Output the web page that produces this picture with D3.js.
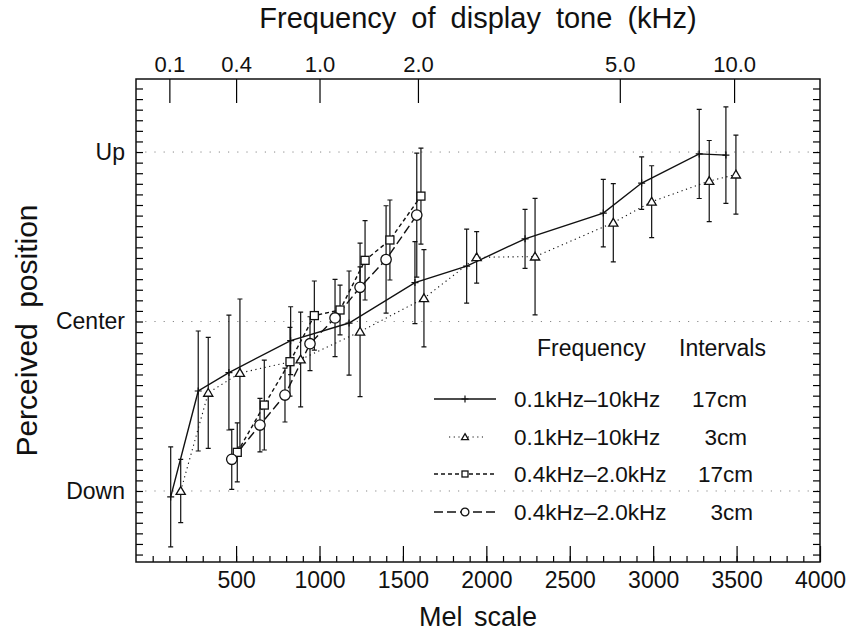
<!DOCTYPE html>
<html>
<head>
<meta charset="utf-8">
<script src="https://cdn.jsdelivr.net/npm/d3@7"></script>
<style>
  body { margin: 0; background: #fff; }
  svg text { font-family: "Liberation Sans", Arial, Helvetica, sans-serif; fill: #111; }
</style>
</head>
<body>
<div id="chart"></div>
<script>
// tick labels
var toneLabels = ["0.1", "0.4", "1.0", "2.0", "5.0", "10.0"];   // kHz, top axis
var toneMel = [100, 500, 1000, 1590, 2800, 3485];                  // where they sit on the mel axis
var melTicks = [500, 1000, 1500, 2000, 2500, 3000, 3500, 4000];
var posLabels = ["Down", "Center", "Up"];
var posValues = [-1, 0, 1];

// 0.1kHz-10kHz, 17cm (solid, +)
var melWide17 = [108, 273, 457, 827, 1177, 1572, 1882, 2232, 2701, 2931, 3276, 3436];
var posWide17 = [-1.035, -0.41, -0.301, -0.113, -0.009, 0.23, 0.327, 0.488, 0.64, 0.817, 0.989, 0.982];
var sdWide17  = [0.295, 0.354, 0.339, 0.2, 0.307, 0.242, 0.218, 0.174, 0.199, 0.155, 0.263, 0.285];

// 0.1kHz-10kHz, 3cm (dotted, triangles)
var melWide3 = [168, 333, 523, 887, 1243, 1626, 1942, 2292, 2761, 2991, 3336, 3496];
var posWide3 = [-1.0, -0.421, -0.304, -0.224, -0.06, 0.137, 0.379, 0.383, 0.583, 0.707, 0.829, 0.867];
var sdWide3  = [0.187, 0.327, 0.437, 0.28, 0.383, 0.287, 0.152, 0.344, 0.231, 0.212, 0.239, 0.233];

// 0.4kHz-2.0kHz, 17cm (short dash, squares)
var melNarrow17 = [507, 669, 823, 969, 1123, 1273, 1422, 1608];
var posNarrow17 = [-0.772, -0.493, -0.237, 0.035, 0.068, 0.361, 0.481, 0.74];
var sdNarrow17  = [0.174, 0.265, 0.203, 0.204, 0.147, 0.234, 0.236, 0.283];

// 0.4kHz-2.0kHz, 3cm (long dash, circles)
var melNarrow3 = [474, 643, 793, 943, 1093, 1243, 1399, 1583];
var posNarrow3 = [-0.813, -0.611, -0.434, -0.131, 0.021, 0.202, 0.366, 0.628];
var sdNarrow3  = [0.177, 0.158, 0.159, 0.159, 0.228, 0.26, 0.317, 0.366];

// legend
var freqLabels = ["0.1kHz\u201310kHz", "0.1kHz\u201310kHz", "0.4kHz\u20132.0kHz", "0.4kHz\u20132.0kHz"];
var intervalLabels = ["17cm", "3cm", "17cm", "3cm"];

function zipSeries(mel, pos, sd) {
  return mel.map(function (m, i) { return { mel: m, pos: pos[i], sd: sd[i] }; });
}

var series = [
  { pts: zipSeries(melWide17, posWide17, sdWide17), dash: null, marker: "plus" },
  { pts: zipSeries(melWide3, posWide3, sdWide3), dash: "1.2,3.5", marker: "triangle" },
  { pts: zipSeries(melNarrow17, posNarrow17, sdNarrow17), dash: "4,3", marker: "square" },
  { pts: zipSeries(melNarrow3, posNarrow3, sdNarrow3), dash: "9,4", marker: "circle" }
];

var margin = { top: 79, right: 29, bottom: 72, left: 136 },
    width = 849 - margin.left - margin.right,
    height = 634 - margin.top - margin.bottom;

var svg = d3.select("#chart").append("svg")
    .attr("width", 849)
    .attr("height", 634);

var g = svg.append("g")
    .attr("transform", "translate(" + margin.left + "," + margin.top + ")");

var x = d3.scaleLinear().domain([-100, 4000]).range([0, width]);
var y = d3.scaleLinear().domain([-1.419, 1.431]).range([height, 0]);

// sparse dotted guide lines at Up / Center / Down
g.append("g").selectAll("line")
    .data(posValues)
    .enter().append("line")
    .attr("x1", 0).attr("x2", width)
    .attr("y1", function (d) { return y(d); })
    .attr("y2", function (d) { return y(d); })
    .attr("stroke", "#888")
    .attr("stroke-width", 1)
    .attr("stroke-dasharray", "1.2,8");

function styleAxis(sel, size) {
  sel.select(".domain").remove();
  sel.selectAll("line").attr("stroke-width", 1.2);
  sel.selectAll("text").style("font-size", size + "px");
}

// minor ticks, every 100 mel along the bottom
g.append("g")
    .attr("transform", "translate(0," + height + ")")
    .call(d3.axisBottom(x).tickValues(d3.range(0, 4000, 100)).tickSize(-6).tickFormat(""))
    .call(styleAxis, 22);

g.append("g")
    .attr("transform", "translate(0," + height + ")")
    .call(d3.axisBottom(x).tickValues(melTicks).tickSize(-16).tickPadding(10).tickFormat(d3.format("d")))
    .call(styleAxis, 23);

g.append("g")
    .call(d3.axisTop(x).tickValues(toneMel).tickSize(-24).tickPadding(7)
      .tickFormat(function (d, i) { return toneLabels[i]; }))
    .call(styleAxis, 22);

var sideTicks = d3.range(-22, 23).map(function (k) { return k / 16; });

g.append("g")
    .call(d3.axisLeft(y).tickValues(sideTicks).tickSize(-7).tickFormat(""))
    .call(styleAxis, 22);

g.append("g")
    .attr("transform", "translate(" + width + ",0)")
    .call(d3.axisRight(y).tickValues(sideTicks).tickSize(-7).tickFormat(""))
    .call(styleAxis, 22);

g.append("g")
    .call(d3.axisLeft(y).tickValues(posValues).tickSize(0).tickPadding(11)
      .tickFormat(function (d, i) { return posLabels[i]; }))
    .call(styleAxis, 23);

g.append("rect")
    .attr("width", width).attr("height", height)
    .attr("fill", "none")
    .attr("stroke", "#111")
    .attr("stroke-width", 1.5);

// axis titles
svg.append("text")
    .attr("x", margin.left + width / 2).attr("y", 28)
    .attr("text-anchor", "middle")
    .style("font-size", "29px").style("word-spacing", "7px")
    .text("Frequency of display tone (kHz)");

svg.append("text")
    .attr("x", margin.left + width / 2).attr("y", 626)
    .attr("text-anchor", "middle")
    .style("font-size", "27px").style("word-spacing", "4px")
    .text("Mel scale");

svg.append("text")
    .attr("transform", "translate(37," + (margin.top + y(0) + 9) + ") rotate(-90)")
    .attr("text-anchor", "middle")
    .style("font-size", "30px").style("word-spacing", "7px")
    .text("Perceived position");

// markers
function drawMarker(sel, kind, s) {
  if (kind === "plus") {
    sel.append("path").attr("d", "M" + (-s) + ",0h" + (2 * s) + "M0," + (-s) + "v" + (2 * s))
      .attr("stroke", "#111").attr("stroke-width", 1.2).attr("fill", "none");
  } else if (kind === "triangle") {
    sel.append("path").attr("d", "M0," + (-1.1 * s) + "L" + (1.15 * s) + "," + (0.85 * s) + "L" + (-1.15 * s) + "," + (0.85 * s) + "Z")
      .attr("stroke", "#111").attr("stroke-width", 1.3).attr("fill", "#fff");
  } else if (kind === "square") {
    sel.append("rect").attr("x", -s).attr("y", -s).attr("width", 2 * s).attr("height", 2 * s)
      .attr("stroke", "#111").attr("stroke-width", 1.3).attr("fill", "#fff");
  } else {
    sel.append("circle").attr("r", 1.3 * s)
      .attr("stroke", "#111").attr("stroke-width", 1.3).attr("fill", "#fff");
  }
}

var line = d3.line()
    .x(function (d) { return x(d.mel); })
    .y(function (d) { return y(d.pos); });

// error bars first, then the curves, then the open markers on top
series.forEach(function (s) {
  g.append("g").selectAll("path")
    .data(s.pts)
    .enter().append("path")
    .attr("d", function (d) {
      var cx = x(d.mel), y1 = y(d.pos + d.sd), y2 = y(d.pos - d.sd);
      return "M" + cx + "," + y1 + "V" + y2 +
        "M" + (cx - 2.5) + "," + y1 + "h5" +
        "M" + (cx - 2.5) + "," + y2 + "h5";
    })
    .attr("stroke", "#111")
    .attr("stroke-width", 1.2)
    .attr("fill", "none");
});

series.forEach(function (s) {
  g.append("path")
    .datum(s.pts)
    .attr("d", line)
    .attr("fill", "none")
    .attr("stroke", "#111")
    .attr("stroke-width", s.dash === "1.2,3.5" ? 1.1 : 1.4)
    .attr("stroke-dasharray", s.dash);
});

series.forEach(function (s) {
  g.append("g").selectAll("g")
    .data(s.pts)
    .enter().append("g")
    .attr("transform", function (d) { return "translate(" + x(d.mel) + "," + y(d.pos) + ")"; })
    .each(function () { drawMarker(d3.select(this), s.marker, s.marker === "plus" ? 3.5 : 4); });
});

// legend
var legend = svg.append("g");
legend.append("text").attr("x", 537).attr("y", 356).style("font-size", "23px").text("Frequency");
legend.append("text").attr("x", 679).attr("y", 356).style("font-size", "23px").text("Intervals");

var rowY = [399, 437, 474, 512];
series.forEach(function (s, i) {
  var row = legend.append("g").attr("transform", "translate(0," + rowY[i] + ")");
  var x0 = s.marker === "triangle" ? 449 : 434, x1 = s.marker === "triangle" ? 483 : 496;
  row.append("line").attr("x1", x0).attr("x2", x1)
    .attr("stroke", "#111").attr("stroke-width", s.marker === "triangle" ? 1.1 : 1.3)
    .attr("stroke-dasharray", s.dash);
  var m = row.append("g").attr("transform", "translate(465,0)");
  drawMarker(m, s.marker, s.marker === "plus" ? 3.5 : 3);
  row.append("text").attr("x", 514).attr("y", 8).style("font-size", "22.5px").text(freqLabels[i]);
  row.append("text").attr("x", i < 2 ? 747 : 753).attr("y", 8)
    .attr("text-anchor", "end").style("font-size", "22.5px").text(intervalLabels[i]);
});
</script>
</body>
</html>
